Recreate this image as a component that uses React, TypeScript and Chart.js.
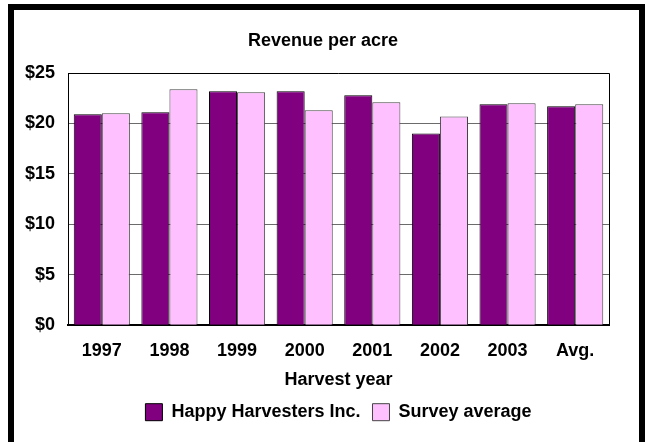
import React, { useEffect, useRef } from 'react';
import { Chart, registerables } from 'chart.js';

Chart.register(...registerables);

// Harvest years on the category axis
const years = ['1997', '1998', '1999', '2000', '2001', '2002', '2003', 'Avg.'];

// Revenue per acre, in dollars
const happyHarvesters = [20.9, 21.1, 23.2, 23.2, 22.8, 19.0, 21.9, 21.7];
const surveyAverage = [21.0, 23.4, 23.1, 21.3, 22.1, 20.7, 22.0, 21.9];

// Value axis range
const yMin = 0;
const yMax = 25;
const yStep = 5;

const FONT_FAMILY = '"Liberation Sans", Arial, Helvetica, sans-serif';
const boldFont = { family: FONT_FAMILY, size: 18, weight: 'bold' as const };

// Thin black line along the top and right edges of the plot area
const plotFrame = {
  id: 'plotFrame',
  beforeDatasetsDraw(chart: any) {
    const { ctx, chartArea: a } = chart;
    ctx.save();
    ctx.strokeStyle = '#000';
    ctx.lineWidth = 1;
    ctx.beginPath();
    ctx.moveTo(Math.round(a.left), Math.round(a.top) + 0.5);
    ctx.lineTo(Math.round(a.right) + 0.5, Math.round(a.top) + 0.5);
    ctx.lineTo(Math.round(a.right) + 0.5, Math.round(a.bottom));
    ctx.stroke();
    ctx.restore();
  },
};

export default function App() {
  const canvasRef = useRef<HTMLCanvasElement | null>(null);

  useEffect(() => {
    if (!canvasRef.current) return;
    Chart.defaults.color = '#000';
    Chart.defaults.font.family = FONT_FAMILY;

    const chart = new Chart(canvasRef.current, {
      type: 'bar',
      data: {
        labels: years,
        datasets: [
          {
            label: 'Happy Harvesters Inc.',
            data: happyHarvesters,
            backgroundColor: '#800080',
            borderColor: '#000',
            borderWidth: 1,
          },
          {
            label: 'Survey average',
            data: surveyAverage,
            backgroundColor: '#FFC0FF',
            borderColor: '#444',
            borderWidth: 1,
          },
        ],
      },
      options: {
        responsive: false,
        animation: false,
        devicePixelRatio: 1,
        datasets: {
          bar: { categoryPercentage: 0.83, barPercentage: 1 },
        },
        layout: { padding: { left: 25, right: 24, top: 0, bottom: 10.8 } },
        plugins: {
          title: {
            display: true,
            text: 'Revenue per acre',
            color: '#000',
            font: boldFont,
            padding: { top: 30.2, bottom: 21.2 },
          },
          legend: {
            position: 'bottom',
            fullSize: false,
            labels: {
              boxWidth: 17,
              boxHeight: 17,
              padding: 12,
              color: '#000',
              font: boldFont,
            },
          },
          tooltip: { enabled: false },
        },
        scales: {
          x: {
            afterFit(scale: any) {
              scale.height = 66;
            },
            grid: { display: false, drawTicks: false },
            border: { display: true, color: '#000', width: 2 },
            ticks: { padding: 15.5, color: '#000', font: boldFont },
            title: {
              display: true,
              text: 'Harvest year',
              color: '#000',
              font: boldFont,
              padding: { top: 8, bottom: 0 },
            },
          },
          y: {
            min: yMin,
            max: yMax,
            afterFit(scale: any) {
              scale.width = 43;
            },
            ticks: {
              stepSize: yStep,
              padding: 13,
              color: '#000',
              font: boldFont,
              callback: (v: any) => '$' + v,
            },
            grid: {
              drawTicks: false,
              color: (ctx: any) =>
                ctx.tick && ctx.tick.value === yMax ? 'rgba(0,0,0,0)' : '#6b6b6b',
            },
            border: { display: true, color: '#000', width: 1 },
          },
          // empty margin on the right of the plot area
          yRight: {
            type: 'linear',
            position: 'right',
            min: yMin,
            max: yMax,
            afterFit(scale: any) {
              scale.width = 12;
            },
            grid: { display: false, drawTicks: false },
            border: { display: false },
            ticks: { display: false },
          },
        },
      },
      plugins: [plotFrame],
    });

    return () => chart.destroy();
  }, []);

  return (
    <div
      style={{
        position: 'fixed',
        left: 0,
        top: 0,
        width: 645,
        height: 442,
        overflow: 'hidden',
        background: '#fff',
      }}
    >
      <div
        style={{
          position: 'absolute',
          left: 8,
          top: 4,
          width: 625,
          height: 470,
          border: '6px solid #000',
          background: '#fff',
        }}
      />
      <canvas
        ref={canvasRef}
        width={645}
        height={442}
        style={{ position: 'absolute', left: 0, top: 0 }}
      />
    </div>
  );
}
